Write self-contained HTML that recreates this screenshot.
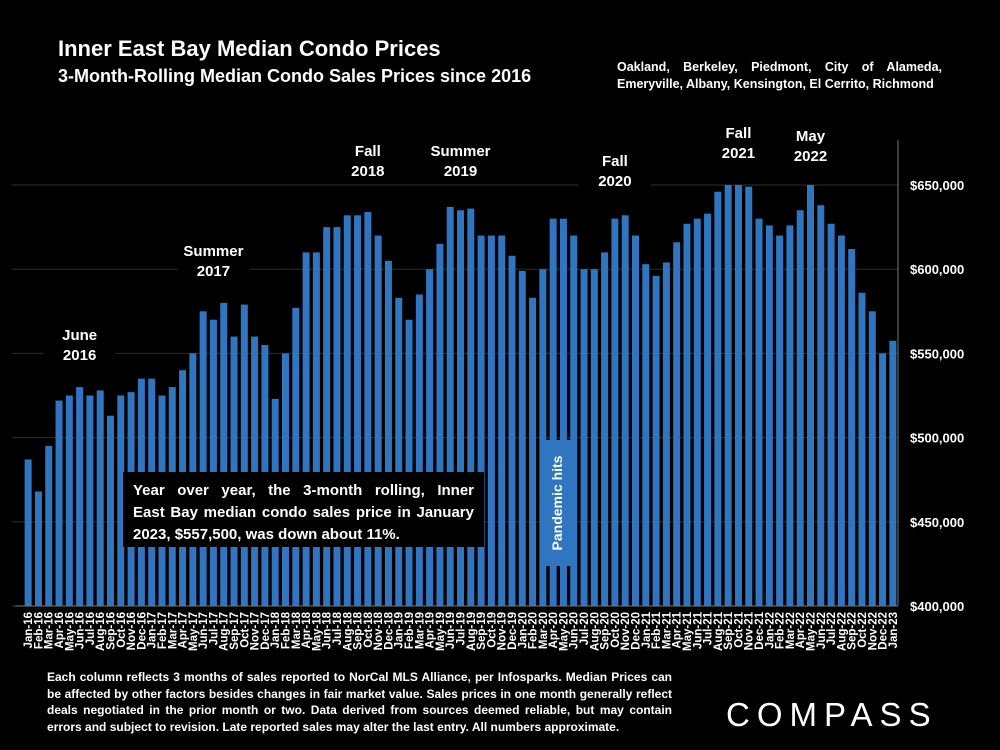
<!DOCTYPE html>
<html><head><meta charset="utf-8"><style>
body{margin:0;background:#000;width:1000px;height:750px;overflow:hidden;font-family:"Liberation Sans",sans-serif;color:#fff}
.t{position:absolute;font-weight:bold}
.jl{text-align:justify;text-align-last:justify;white-space:nowrap}
</style></head><body>
<div class="t" style="left:58px;top:36px;font-size:22px">Inner East Bay Median Condo Prices</div>
<div class="t" style="left:58px;top:66px;font-size:18px">3-Month-Rolling Median Condo Sales Prices since 2016</div>
<div class="t" style="left:617px;top:59px;width:325px;font-size:12.5px;line-height:17px;text-align:justify;text-align-last:left">Oakland, Berkeley, Piedmont, City of Alameda, Emeryville, Albany, Kensington, El Cerrito, Richmond</div>
<svg id="chart" style="position:absolute;left:0;top:0" width="1000" height="750"></svg>
<div class="t" style="left:47px;top:669px;width:625px;font-size:12px;line-height:16.5px;text-align:justify">Each column reflects 3 months of sales reported to NorCal MLS Alliance, per Infosparks. Median Prices can be affected by other factors besides changes in fair market value. Sales prices in one month generally reflect deals negotiated in the prior month or two. Data derived from sources deemed reliable, but may contain errors and subject to revision. Late reported sales may alter the last entry. All numbers approximate.</div>
<div style="position:absolute;left:726px;top:696px;font-size:33px;letter-spacing:7px;font-family:'Liberation Sans',sans-serif">COMPASS</div>
<script>
const months=["Jan","Feb","Mar","Apr","May","Jun","Jul","Aug","Sep","Oct","Nov","Dec"];
const categories=[];for(let y=16;y<=23;y++)for(let m=0;m<12;m++){if(y==23&&m>0)break;categories.push(months[m]+"-"+y);}
const values=[487,468,495,522,525,530,525,528,513,525,527,535,
535,525,530,540,550,575,570,580,560,579,560,555,
523,550,577,610,610,625,625,632,632,634,620,605,
583,570,585,600,615,637,635,636,620,620,620,608,
599,583,600,630,630,620,600,600,610,630,632,620,
603,596,604,616,627,630,633,646,650,650,649,630,
626,620,626,635,650,638,627,620,612,586,575,550,557.5];
const yTicks=[400,450,500,550,600,650];
const annotations=[["June","2016",5,340],["Summer","2017",18,256],["Fall","2018",33,156],["Summer","2019",42,156],["Fall","2020",57,166],["Fall","2021",69,138],["May","2022",76,141]];
const svg=document.getElementById('chart');const NS="http://www.w3.org/2000/svg";
const x0=23,x1=898,slot=(x1-x0)/categories.length,bw=7;
const y=v=>606-(v-400)*84.2/50;
const xc=i=>x0+slot*(i+0.5);
function mk(t,a){const e=document.createElementNS(NS,t);for(const k in a)e.setAttribute(k,a[k]);svg.appendChild(e);return e;}
yTicks.forEach(v=>{
const g=mk('line',{x1:12,x2:x1,y1:y(v),y2:y(v),stroke:'#2e2e2e','stroke-width':1});


const t=mk('text',{x:910,y:y(v)+5,fill:'#fff','font-size':13,'font-weight':'bold','font-family':'Liberation Sans'});t.textContent='$'+v+',000';


});
const ax=mk('line',{x1:x1,x2:x1,y1:140,y2:606,stroke:'#777','stroke-width':1});


values.forEach((v,i)=>{
const r=mk('rect',{x:xc(i)-bw/2,y:y(v),width:bw,height:606-y(v),fill:'#2f75c0'});


const t=mk('text',{transform:`translate(${xc(i)+4},612) rotate(-90)`,'text-anchor':'end',fill:'#fff','font-size':11.5,'font-weight':'bold','font-family':'Liberation Sans'});t.textContent=categories[i];


});
const bl=mk('line',{x1:15,x2:x1,y1:606,y2:606,stroke:'#777'});


annotations.forEach(a=>{
const cx=xc(a[2]);
const bg=mk('rect',{x:cx-36,y:a[3]-16,width:72,height:44,fill:'#000'});


[a[0],a[1]].forEach((s,k)=>{const t=mk('text',{x:cx,y:a[3]+k*20,'text-anchor':'middle',fill:'#fff','font-size':15,'font-weight':'bold','font-family':'Liberation Sans'});t.textContent=s;

});
});
const pb=mk('rect',{x:542,y:440,width:30,height:126,fill:'#2f75c0'});


const pt=mk('text',{transform:'translate(562,503) rotate(-90)','text-anchor':'middle',fill:'#fff','font-size':14,'font-weight':'bold','font-family':'Liberation Sans'});pt.textContent='Pandemic hits';


</script>
<div class="t" style="left:123px;top:472px;width:341px;height:59px;padding:8px 10px;background:#000;font-size:15px;line-height:22px">
<div class="jl">Year over year, the 3-month rolling, Inner</div>
<div class="jl">East Bay median condo sales price in January</div>
<div>2023, $557,500, was down about 11%.</div>
</div>
</body></html>
